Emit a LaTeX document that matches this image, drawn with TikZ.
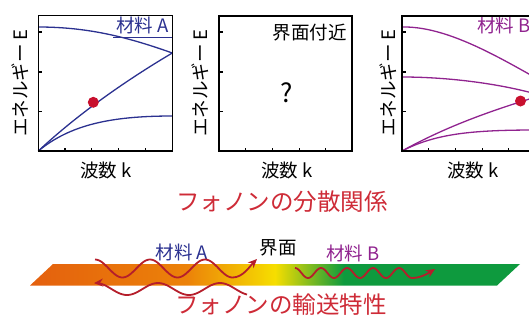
\documentclass[tikz,border=0pt]{standalone}
\usepackage{fontspec}
\setmainfont{Noto Sans CJK JP}
\usetikzlibrary{arrows.meta}
\definecolor{blueA}{HTML}{2B3190}
\definecolor{purpB}{HTML}{90238F}
\definecolor{dotred}{HTML}{C8102E}
\definecolor{titred}{HTML}{CE2B37}
\definecolor{wavered}{HTML}{B51E2B}
\definecolor{orng}{HTML}{E4600E}
\definecolor{orng2}{HTML}{EC8209}
\definecolor{yel}{HTML}{F6DE00}
\definecolor{grn}{HTML}{0E9A3E}
\pgfdeclarehorizontalshading{barshade}{100bp}{color(0bp)=(orng); color(25bp)=(orng); color(41bp)=(orng2); color(50bp)=(yel); color(57bp)=(grn); color(100bp)=(grn)}
\tikzset{
  frame/.style={draw=black, line width=1.5pt},
  tick/.style={draw=black, line width=1.2pt},
  bandA/.style={draw=blueA, line width=1.3pt},
  bandB/.style={draw=purpB, line width=1.3pt},
  reddot/.style={circle, fill=dotred, inner sep=0pt, minimum size=11pt},
  small/.style={font=\fontsize{18.5}{20}\selectfont, inner sep=0pt},
  big/.style={font=\fontsize{23.5}{25}\selectfont, inner sep=0pt, text=titred},
  wave/.style={draw=wavered, line width=1.8pt, -{Stealth[length=9pt,width=8pt]}},
  wavel/.style={draw=wavered, line width=1.8pt, {Stealth[length=9pt,width=8pt]}-},
}
\begin{document}
\begin{tikzpicture}[x=1pt,y=-1pt]
\useasboundingbox (0,0) rectangle (529,322);
\begin{scope}
\clip (0,0) rectangle (529,322);
% ---------- Panel 1 ----------
\draw[bandA] (38.3,27) .. controls (90,27) and (130,38) .. (172.3,53);
\draw[bandA] (113,37.5) -- (172.3,37.5);
\draw[bandA] (38.3,151) .. controls (80,112) and (130,78) .. (172.3,53);
\draw[bandA] (38.3,151) .. controls (70,125) and (110,116) .. (172.3,116);
\node[reddot] (d1) at (93.3,102.3) {};
\node[small, text=blueA, anchor=east] (mA1) at (169,25) {材料 A};
\draw[frame] (38.3,15.5) rectangle (172.3,151);
\node[small, rotate=90] (yl1) at (20,83) {エネルギー E};
\node[small] (xl1) at (106,170) {波数 k};
% ---------- Panel 2 ----------
\node[small] (near) at (309.5,33) {界面付近};
\node[font=\fontsize{26}{28}\selectfont, inner sep=0pt] (q) at (287,93) {?};
\draw[frame] (219,16) rectangle (352,151);
\node[small, rotate=90] (yl2) at (200,83) {エネルギー E};
\node[small] (xl2) at (287,170) {波数 k};
% ---------- Panel 3 ----------
\draw[bandB] (402,27) .. controls (445,26) and (495,55) .. (536,78);
\draw[bandB] (402,77) .. controls (450,77) and (500,84) .. (536,94);
\draw[bandB] (402,151) .. controls (440,130) and (480,114) .. (536,97);
\draw[bandB] (402,151) .. controls (435,134) and (470,130) .. (536,130);
\node[reddot] (d3) at (520.5,101) {};
\node[small, text=purpB, anchor=west] (mB3) at (477,25) {材料 B};
\draw[frame] (402,16) rectangle (536,151);
\node[small, rotate=90] (yl3) at (388,83) {エネルギー E};
\node[small] (xl3) at (473,170) {波数 k};
% ticks
\foreach \L in {38.3,219,402} {
  \foreach \yy in {32,72,111.5} \draw[tick] (\L,\yy) -- ++(4,0);
  \foreach \k in {1,...,4} \draw[tick] (\L+26.7*\k,151) -- ++(0,-3);
}
\end{scope}
% ---------- Titles ----------
\node[big] (t1) at (282,202) {フォノンの分散関係};
\node[big] (t2) at (281,305) {フォノンの輸送特性};
% ---------- Bar ----------
\shade[shading=barshade] (30,285.5) -- (53,264) -- (520,264) -- (497,285.5) -- cycle;
\node[small, text=blueA] (lA) at (182,252) {材料 A};
\node[small] (lI) at (278,248) {界面};
\node[small, text=purpB] (lB) at (353,253) {材料 B};
% ---------- Waves ----------
\draw[wave] plot[domain=95:232.5, samples=80] (\x, {268.5-9*cos((\x-95)/27.5*180)})
  .. controls (243,277.5) and (250,266) .. (257,259);
\draw[wavel] plot[domain=94:247, samples=80] (\x, {289-6*cos((\x-158)/31*180)});
\draw[wave] plot[domain=295:412, samples=100] (\x, {273-5*cos((\x-295)/13*180)})
  .. controls (420,278) and (427,274) .. (435,269);
\end{tikzpicture}
\end{document}
